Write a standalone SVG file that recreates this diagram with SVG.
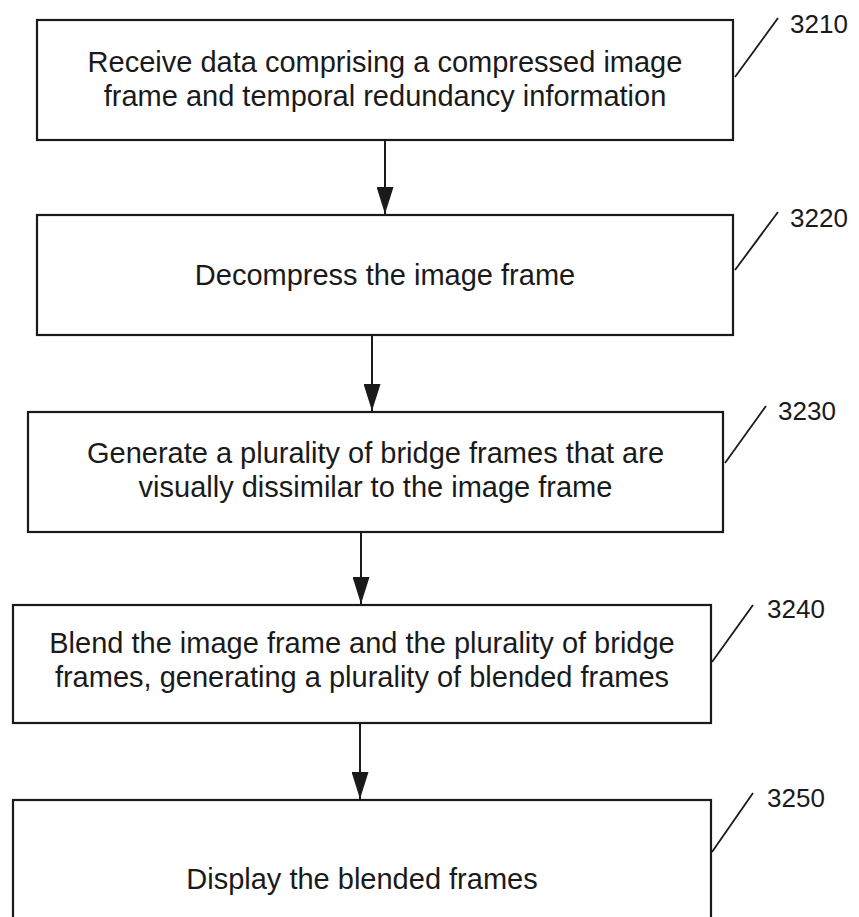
<svg xmlns="http://www.w3.org/2000/svg" width="859" height="917" viewBox="0 0 859 917">
<style>
.box{fill:#fff;stroke:#1a1a1a;stroke-width:2.2}
.t{font-family:"Liberation Sans",Arial,sans-serif;font-size:29px;fill:#1a1a1a;text-anchor:middle}
.lbl{font-family:"Liberation Sans",Arial,sans-serif;font-size:26px;fill:#1a1a1a}
.lead{stroke:#1a1a1a;stroke-width:1.8;fill:none}
.conn{stroke:#1a1a1a;stroke-width:2;fill:none}
</style>
<defs>
<marker id="ah" markerUnits="userSpaceOnUse" markerWidth="28" markerHeight="17" refX="27" refY="8.5" orient="auto" viewBox="0 0 28 17">
<path d="M0,0 L27,8.5 L0,17 Z" fill="#1a1a1a"/>
</marker>
</defs>
<rect width="859" height="917" fill="#fff"/>
<g id="connectors">
<line class="conn" x1="385" y1="140" x2="385" y2="214" marker-end="url(#ah)"/>
<line class="conn" x1="372" y1="335" x2="372" y2="411" marker-end="url(#ah)"/>
<line class="conn" x1="361" y1="532" x2="361" y2="604" marker-end="url(#ah)"/>
<line class="conn" x1="360" y1="723" x2="360" y2="799" marker-end="url(#ah)"/>
</g>
<g id="n3210">
<rect class="box" x="37" y="20" width="696" height="120"/>
<text class="t" x="385" y="72">Receive data comprising a compressed image</text>
<text class="t" x="385" y="106">frame and temporal redundancy information</text>
<line class="lead" x1="735" y1="77" x2="778" y2="18"/>
<text class="lbl" x="790" y="33">3210</text>
</g>
<g id="n3220">
<rect class="box" x="37" y="215" width="696" height="120"/>
<text class="t" x="385" y="285">Decompress the image frame</text>
<line class="lead" x1="735" y1="270" x2="778" y2="212"/>
<text class="lbl" x="790" y="227">3220</text>
</g>
<g id="n3230">
<rect class="box" x="28" y="412" width="695" height="120"/>
<text class="t" x="375.5" y="463">Generate a plurality of bridge frames that are</text>
<text class="t" x="375.5" y="497">visually dissimilar to the image frame</text>
<line class="lead" x1="725" y1="463" x2="766" y2="406"/>
<text class="lbl" x="778" y="420">3230</text>
</g>
<g id="n3240">
<rect class="box" x="13" y="605" width="698" height="118"/>
<text class="t" x="362" y="653">Blend the image frame and the plurality of bridge</text>
<text class="t" x="362" y="687">frames, generating a plurality of blended frames</text>
<line class="lead" x1="712" y1="662" x2="753" y2="605"/>
<text class="lbl" x="767" y="618">3240</text>
</g>
<g id="n3250">
<rect class="box" x="13" y="800" width="698" height="140"/>
<text class="t" x="362" y="889">Display the blended frames</text>
<line class="lead" x1="712" y1="852" x2="753" y2="793"/>
<text class="lbl" x="767" y="807">3250</text>
</g>
</svg>
